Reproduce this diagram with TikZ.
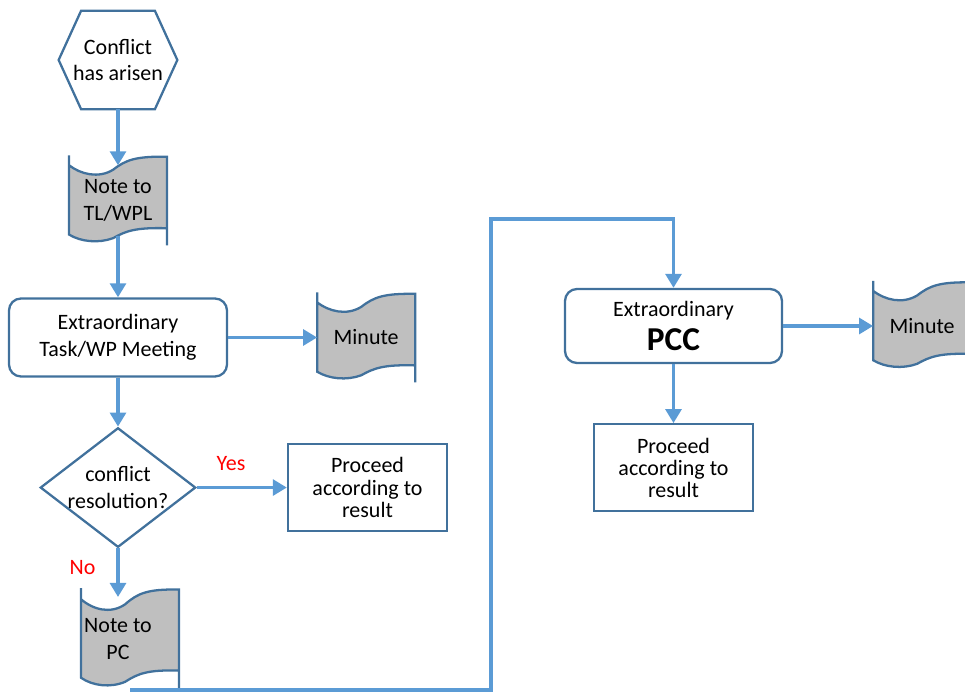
\documentclass[tikz,border=0pt]{standalone}
\usepackage{fontspec}
\setmainfont{Carlito}
\usetikzlibrary{arrows.meta, positioning, calc, shapes.geometric}

\definecolor{lineblue}{HTML}{41719C}
\definecolor{arrowblue}{HTML}{5B9BD5}
\definecolor{notegray}{HTML}{BFBFBF}

\pgfdeclarelayer{background}
\pgfsetlayers{background,main}

% curled sheet drawn behind a scroll node
\newcommand{\scrollnote}[1]{%
  \path (#1.south west); \pgfgetlastxy{\scrollxa}{\scrollya}%
  \path (#1.north east); \pgfgetlastxy{\scrollxb}{\scrollyb}%
  \pgfmathsetmacro{\scrollw}{\scrollxb-\scrollxa}%
  \pgfmathsetmacro{\scrollh}{\scrollyb-\scrollya}%
  \begin{pgfonlayer}{background}
    \begin{scope}[shift={(\scrollxa,\scrollya)}, x=\scrollw pt, y=\scrollh pt]
      \fill[notegray] (0,0.12) -- (0,0.89)
        .. controls (0.12,0.79) and (0.3,0.74) .. (0.45,0.84)
        .. controls (0.58,0.95) and (0.68,0.99) .. (1,0.985)
        -- (1,0.19)
        .. controls (0.68,0.2) and (0.58,0.16) .. (0.45,0.08)
        .. controls (0.3,0.02) and (0.12,0.04) .. (0,0.12) -- cycle;
      \draw[outline] (0,1) -- (0,0.12)
        .. controls (0.12,0.04) and (0.3,0.02) .. (0.45,0.08)
        .. controls (0.58,0.16) and (0.68,0.2) .. (1,0.19)
        (1,0) -- (1,0.985)
        .. controls (0.68,0.99) and (0.58,0.95) .. (0.45,0.84)
        .. controls (0.3,0.74) and (0.12,0.79) .. (0,0.89);
    \end{scope}
  \end{pgfonlayer}}

\begin{document}
\begin{tikzpicture}[
    font=\fontsize{12.5}{15.3}\selectfont,
    >={Triangle[width=9pt, length=8pt]},
    every node/.style={align=center},
    flow/.style={->, draw=arrowblue, line width=2pt},
    outline/.style={draw=lineblue, line width=1.3pt},
    box/.style={rectangle, outline, rounded corners=0.24cm, minimum width=4.36cm, minimum height=1.56cm},
    result/.style={rectangle, outline, minimum width=3.18cm, minimum height=1.74cm,
                   font=\fontsize{12.5}{12.6}\selectfont},
    scroll/.style={minimum width=1.96cm, minimum height=1.8cm, outer sep=0pt, inner sep=0pt},
    decision/.style={diamond, outline, minimum width=2.98cm, minimum height=2.28cm, inner sep=0pt, aspect=1.3},
    answer/.style={text=red}
]
\useasboundingbox (0,0) rectangle (19.3,-13.86);

% ----------------------
% Nodes
% ----------------------

% Start
\node[minimum width=2.36cm, minimum height=1.96cm] (start) at (2.36,-1.2) {Conflict\\has arisen};
\draw[outline] (start.west) -- ([xshift=0.45cm]start.north west) -- ([xshift=-0.45cm]start.north east)
    -- (start.east) -- ([xshift=-0.45cm]start.south east) -- ([xshift=0.45cm]start.south west) -- cycle;

% Note to team leader
\node[scroll, below=0.92cm of start] (notetl) {Note to\\TL/WPL};

% Task meeting
\node[box, below=1.04cm of notetl] (meeting) {Extraordinary\\Task/WP Meeting};
\node[scroll, right=1.78cm of meeting] (minutetask) {Minute};

% Decision
\node[decision, below=0.98cm of meeting] (resolved) {conflict\\resolution?};
\node[result, right=1.8cm of resolved] (proceedtask) {Proceed\\according to\\result};

% Note to PC
\node[scroll, minimum height=2.04cm] (notepc) at (2.6,-12.78) {Note to\hspace*{0.48cm}\\PC\hspace*{0.48cm}};

% PCC meeting
\node[box, minimum width=4.34cm, minimum height=1.48cm] (pcc) at (13.47,-6.52)
    {Extraordinary\\[4pt]{\fontsize{19}{22}\selectfont\bfseries PCC}};
\node[scroll, right=1.8cm of pcc] (minutepcc) {Minute};
\node[result, below=1.18cm of pcc] (proceedpcc) {Proceed\\according to\\result};

\coordinate (turn) at (9.82,-4.38);

% ----------------------
% Arrows
% ----------------------

\draw[flow] (start.south) -- ([yshift=-0.2cm]notetl.north);
\draw[flow] ([yshift=0.18cm]notetl.south) -- (meeting.north);
\draw[flow] (meeting.east) -- (minutetask.west);
\draw[flow] (meeting.south) -- (resolved.north);
\draw[flow] (resolved.east) -- node[answer, pos=0.38, above=0.18cm] {Yes} (proceedtask.west);
\draw[flow] (resolved.south) -- node[answer, pos=0.4, left=0.3cm] {No} ([yshift=-0.18cm]resolved.south |- notepc.north);

% Note to PC up to the PCC
\draw[flow] (notepc.south) -| (turn) -| (pcc.north);
\draw[flow] (pcc.east) -- (minutepcc.west);
\draw[flow] (pcc.south) -- (proceedpcc.north);

% Curled sheets
\scrollnote{notetl}
\scrollnote{minutetask}
\scrollnote{notepc}
\scrollnote{minutepcc}

\end{tikzpicture}
\end{document}
